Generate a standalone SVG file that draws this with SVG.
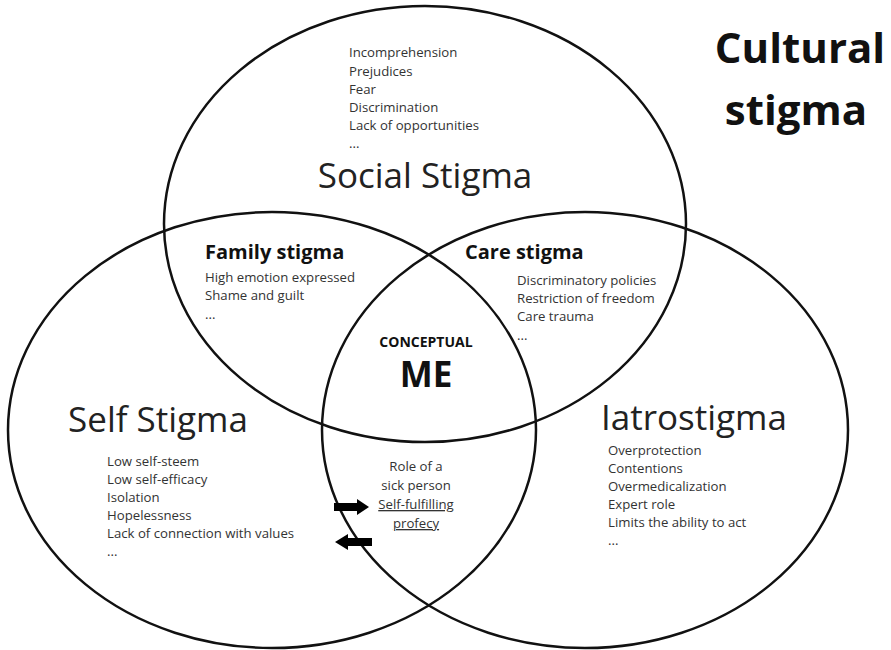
<svg xmlns="http://www.w3.org/2000/svg" width="891" height="650" viewBox="0 0 891 650">
<style>
.c{fill:none;stroke:#111;stroke-width:2.5}
.t{font-family:"Open Sans","Noto Sans",sans-serif;fill:#222}
.l{font-family:"Open Sans","Noto Sans",sans-serif;font-size:13.2px;fill:#333}
.b{font-family:"Open Sans","Noto Sans",sans-serif;font-weight:bold;fill:#111}
.big{font-size:35px;text-anchor:middle}
.sub{font-size:20px}
.u{text-decoration:underline}
</style>
<rect width="891" height="650" fill="#fff"/>
<g id="social">
<ellipse class="c" cx="425" cy="224" rx="261" ry="218"/>
<text class="t big" x="425" y="188">Social Stigma</text>
<text class="l" x="349" y="57">Incomprehension</text>
<text class="l" x="349" y="76">Prejudices</text>
<text class="l" x="349" y="94">Fear</text>
<text class="l" x="349" y="112">Discrimination</text>
<text class="l" x="349" y="130">Lack of opportunities</text>
<text class="l" x="349" y="148">...</text>
</g>
<g id="self">
<ellipse class="c" cx="272" cy="430" rx="264" ry="218"/>
<text class="t big" x="158" y="432">Self Stigma</text>
<text class="l" x="107" y="466">Low self-steem</text>
<text class="l" x="107" y="484">Low self-efficacy</text>
<text class="l" x="107" y="502">Isolation</text>
<text class="l" x="107" y="520">Hopelessness</text>
<text class="l" x="107" y="538">Lack of connection with values</text>
<text class="l" x="107" y="556">...</text>
</g>
<g id="iatro">
<ellipse class="c" cx="585" cy="430" rx="263" ry="218"/>
<text class="t big" x="694" y="430">Iatrostigma</text>
<text class="l" x="608" y="455">Overprotection</text>
<text class="l" x="608" y="473">Contentions</text>
<text class="l" x="608" y="491">Overmedicalization</text>
<text class="l" x="608" y="509">Expert role</text>
<text class="l" x="608" y="527">Limits the ability to act</text>
<text class="l" x="608" y="545">...</text>
</g>
<g id="family">
<text class="b sub" x="205" y="259">Family stigma</text>
<text class="l" x="205" y="282">High emotion expressed</text>
<text class="l" x="205" y="300">Shame and guilt</text>
<text class="l" x="205" y="319">...</text>
</g>
<g id="care">
<text class="b sub" x="465" y="259">Care stigma</text>
<text class="l" x="517" y="285">Discriminatory policies</text>
<text class="l" x="517" y="303">Restriction of freedom</text>
<text class="l" x="517" y="321">Care trauma</text>
<text class="l" x="517" y="340">...</text>
</g>
<g id="me">
<text class="b" x="426" y="347" font-size="14" text-anchor="middle">CONCEPTUAL</text>
<text class="b" x="426" y="387" font-size="35" text-anchor="middle">ME</text>
<text class="l" x="416" y="471" font-size="16" text-anchor="middle" fill="#444">Role of a</text>
<text class="l" x="416" y="490" font-size="16" text-anchor="middle" fill="#444">sick person</text>
<text class="l u" x="416" y="509" text-anchor="middle">Self-fulfilling</text>
<text class="l u" x="416" y="528" text-anchor="middle">profecy</text>
</g>
<g id="cultural">
<text class="b" x="800" y="63" font-size="42" text-anchor="middle">Cultural</text>
<text class="b" x="796" y="125" font-size="42" text-anchor="middle">stigma</text>
</g>
<g id="connectors" fill="#000">
<polygon points="334,503 357,503 357,499 369,507 357,515 357,511 334,511"/>
<polygon points="372,538 348,538 348,534 335,542 348,550 348,546 372,546"/>
</g>
</svg>
